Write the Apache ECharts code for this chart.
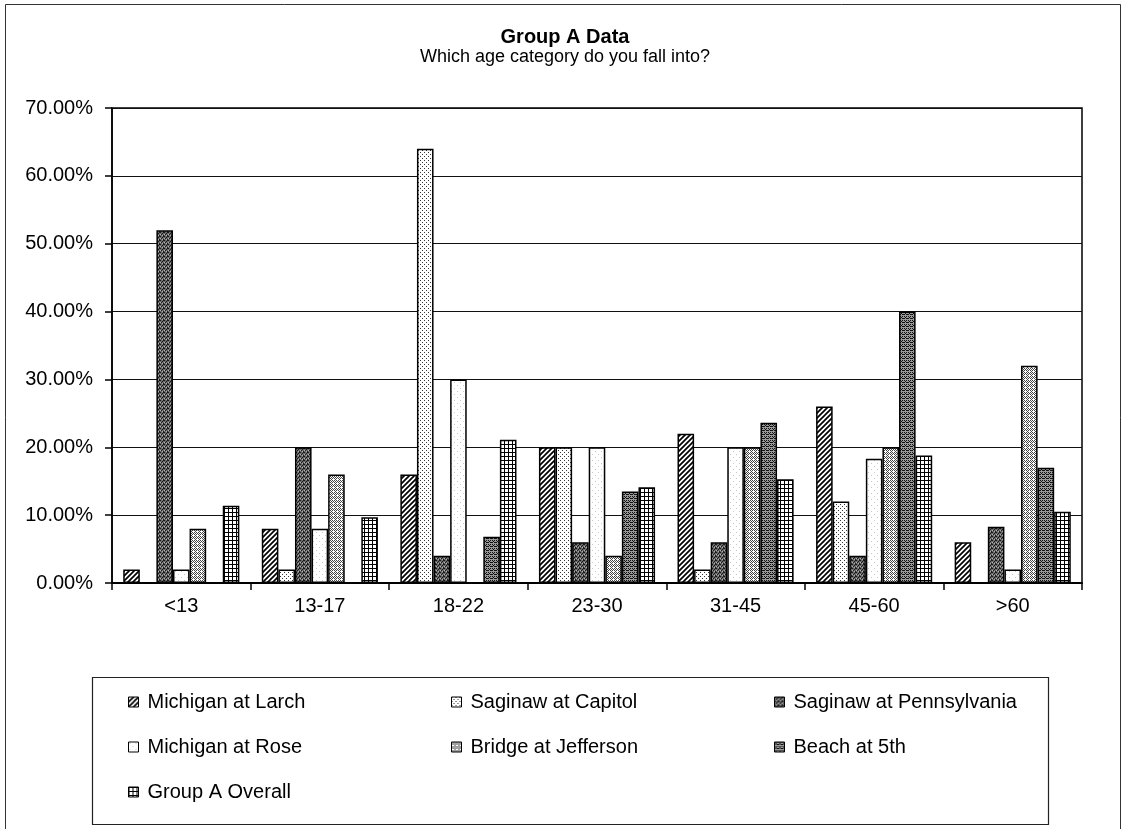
<!DOCTYPE html>
<html>
<head>
<meta charset="utf-8">
<script src="https://cdn.jsdelivr.net/npm/echarts@6/dist/echarts.min.js"></script>
<style>
html,body{margin:0;padding:0;background:#fff;}
#chart{width:1123px;height:829px;}
</style>
</head>
<body>
<div id="chart"></div>
<script>
const categories = ['<13', '13-17', '18-22', '23-30', '31-45', '45-60', '>60'];
const seriesNames = ['Michigan at Larch', 'Saginaw at Capitol', 'Saginaw at Pennsylvania', 'Michigan at Rose', 'Bridge at Jefferson', 'Beach at 5th', 'Group A Overall'];
const michiganLarch = [2, 8, 16, 20, 22, 26, 6];
const saginawCapitol = [0, 2, 64, 20, 2, 12, 0];
const saginawPennsylvania = [52, 20, 4, 6, 6, 4, 8.3];
const michiganRose = [2, 8, 30, 20, 20, 18.3, 2];
const bridgeJefferson = [8, 16, 0, 4, 20, 20, 32];
const beach5th = [0, 0, 6.8, 13.5, 23.6, 40, 17];
const groupAOverall = [11.4, 9.7, 21.1, 14.1, 15.3, 18.8, 10.5];
const yTicks = [0, 10, 20, 30, 40, 50, 60, 70];

function tile(size, bg, draw) {
  const c = document.createElement('canvas');
  c.width = size; c.height = size;
  const g = c.getContext('2d');
  g.fillStyle = bg; g.fillRect(0, 0, size, size);
  draw(g, size);
  return { image: c, repeat: 'repeat' };
}
function px(g, pts, col) { g.fillStyle = col; pts.forEach(p => g.fillRect(p[0], p[1], 1, 1)); }

const patLarch = tile(5, '#fff', (g, s) => {
  g.strokeStyle = '#000'; g.lineWidth = 1.7;
  g.beginPath();
  g.moveTo(-1, s + 1); g.lineTo(s + 1, -1);
  g.moveTo(-1, 1); g.lineTo(1, -1);
  g.moveTo(s - 1, s + 1); g.lineTo(s + 1, s - 1);
  g.stroke();
});
const patCapitol = tile(4, '#fff', g => px(g, [[0, 0], [2, 2]], '#333'));
const patPenn = tile(4, '#6a6a6a', g => { px(g, [[0, 0], [2, 1], [1, 2], [3, 3], [3, 0]], '#1a1a1a'); px(g, [[2, 3], [0, 2]], '#b0b0b0'); });
const patRose = tile(6, '#fff', g => px(g, [[1, 1], [4, 4]], '#c8c8c8'));
const patBridge = tile(4, '#fff', g => px(g, [[0, 0], [2, 0], [1, 1], [0, 2], [2, 2], [3, 3], [3, 1]], '#444'));
const patBeach = tile(4, '#9a9a9a', g => px(g, [[0, 0], [2, 0], [1, 1], [3, 2], [0, 2], [2, 2]], '#111'));
const patOverall = tile(4, '#fff', g => { g.fillStyle = '#000'; g.fillRect(0, 0, 4, 1); g.fillRect(0, 0, 1, 4); });

const seriesData = [michiganLarch, saginawCapitol, saginawPennsylvania, michiganRose, bridgeJefferson, beach5th, groupAOverall];
const patterns = [patLarch, patCapitol, patPenn, patRose, patBridge, patBeach, patOverall];

const FONT = 'Liberation Sans, Arial, sans-serif';
const chart = echarts.init(document.getElementById('chart'), null, { renderer: 'canvas' });

const legendCols = [
  { left: 128, names: [seriesNames[0], seriesNames[3], seriesNames[6]] },
  { left: 451, names: [seriesNames[1], seriesNames[4]] },
  { left: 774, names: [seriesNames[2], seriesNames[5]] }
];

chart.setOption({
  backgroundColor: '#fff',
  animation: false,
  title: [
    { text: 'Group A Data', left: 560, top: 22, textAlign: 'center', textStyle: { fontFamily: FONT, fontSize: 20, fontWeight: 'bold', color: '#000' } },
    { text: 'Which age category do you fall into?', left: 560, top: 43, textAlign: 'center', textStyle: { fontFamily: FONT, fontSize: 18, fontWeight: 'normal', color: '#000' } }
  ],
  graphic: [
    { type: 'rect', shape: { x: 5.5, y: 4.5, width: 1115, height: 840 }, style: { fill: 'none', stroke: '#333', lineWidth: 1 }, silent: true },
    { type: 'rect', shape: { x: 92.5, y: 677.5, width: 956, height: 147 }, style: { fill: '#fff', stroke: '#222', lineWidth: 1.2 }, silent: true, z: -1 }
  ],
  legend: legendCols.map(c => ({
    data: c.names,
    orient: 'vertical',
    left: c.left,
    top: 692,
    padding: 0,
    itemGap: 25,
    itemWidth: 10,
    itemHeight: 10,
    icon: 'rect',
    selectedMode: false,
    itemStyle: { borderColor: '#000', borderWidth: 1 },
    textStyle: { fontFamily: FONT, fontSize: 20, color: '#000', padding: [0, 0, 0, 4] }
  })),
  grid: { left: 112, right: 41, top: 108, bottom: 246, show: true, borderColor: '#000', borderWidth: 1.5, backgroundColor: '#fff' },
  xAxis: {
    type: 'category',
    data: categories,
    axisLine: { lineStyle: { color: '#000', width: 2 } },
    axisTick: { show: true, length: 7, alignWithLabel: false, lineStyle: { color: '#000', width: 1.5 } },
    axisLabel: { fontFamily: FONT, fontSize: 20, color: '#000', margin: 13 },
    splitLine: { show: false }
  },
  yAxis: {
    type: 'value',
    min: yTicks[0],
    max: yTicks[yTicks.length - 1],
    interval: 10,
    axisLine: { show: true, lineStyle: { color: '#000', width: 1.5 } },
    axisTick: { show: true, length: 7, lineStyle: { color: '#000', width: 1.5 } },
    axisLabel: { fontFamily: FONT, fontSize: 20, color: '#000', margin: 19, formatter: v => v.toFixed(2) + '%' },
    splitLine: { show: true, lineStyle: { color: '#111', width: 1.2 } }
  },
  series: seriesNames.map((n, i) => ({
    name: n,
    type: 'bar',
    data: seriesData[i],
    barGap: '0%',
    barCategoryGap: '16.2%',
    itemStyle: { color: patterns[i], borderColor: '#000', borderWidth: 1.5 }
  }))
});
</script>
</body>
</html>
